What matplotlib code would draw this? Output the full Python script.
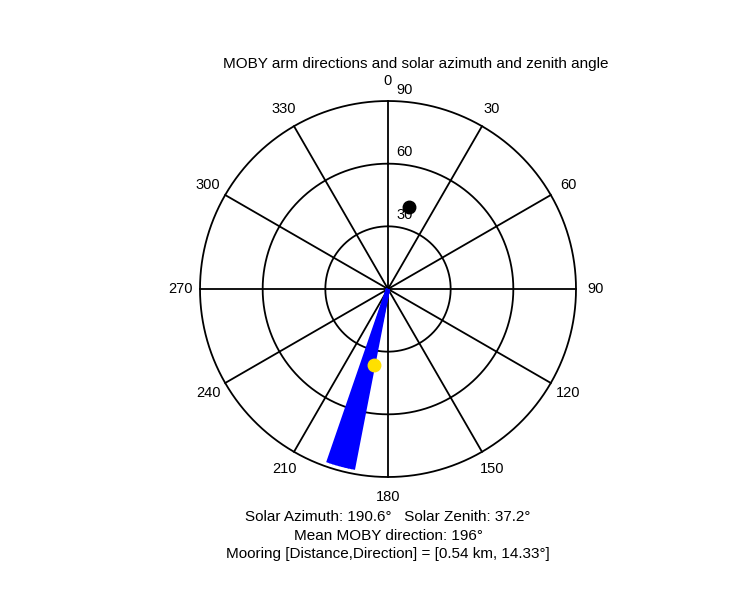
import numpy as np
import matplotlib
matplotlib.use("Agg")
import matplotlib.pyplot as plt

plt.rcParams['font.family'] = ['Liberation Sans', 'DejaVu Sans']

rings = [30, 60, 90]
spoke_angles = [0, 30, 60, 90, 120, 150]
angle_labels = ['0', '30', '60', '90', '120', '150', '180', '210', '240', '270', '300', '330']
arm_dirs = [191, 192, 193, 194, 195, 196, 197, 198, 199]
solar_az, solar_zen = 190.6, 37.2
mooring_dir, mooring_r = 14.33, 40.5

def xy(az, r):
    a = np.deg2rad(az)
    return r * np.sin(a), r * np.cos(a)

fig = plt.figure(figsize=(7.5, 6), dpi=100)
ax = fig.add_axes([0, 0, 1, 1])
R = 188.0
ax.set_xlim(-388 / R * 90, (750 - 388) / R * 90)
ax.set_ylim(-(600 - 289) / R * 90, 289 / R * 90)
ax.axis('off')

t = np.linspace(0, 360, 721)
for r in rings:
    x, y = xy(t, r)
    ax.plot(x, y, color='black', lw=1.3)
for a in spoke_angles:
    x0, y0 = xy(a, 90)
    ax.plot([-x0, x0], [-y0, y0], color='black', lw=1.3)

for i, lab in enumerate(angle_labels):
    x, y = xy(i * 30, 99.5)
    ax.text(x, y, lab, ha='center', va='center', fontsize=10.5)
for r in rings:
    ax.text(8.1, r + 5.5, str(r), ha='center', va='center', fontsize=10.5)

for d in arm_dirs:
    x, y = xy(d, 88)
    ax.plot([0, x], [0, y], color='blue', lw=3, solid_capstyle='butt')

x, y = xy(mooring_dir, mooring_r)
ax.plot(x, y, 'o', color='black', ms=9)
x, y = xy(solar_az, solar_zen)
ax.plot(x, y, 'o', color='#FFE000', ms=9)

fig.text(416 / 750, 1 - 64 / 600, 'MOBY arm directions and solar azimuth and zenith angle',
         ha='center', va='center', fontsize=11)
fig.text(388 / 750, 1 - 517 / 600, 'Solar Azimuth: 190.6°   Solar Zenith: 37.2°', ha='center', va='center', fontsize=11)
fig.text(388 / 750, 1 - 536 / 600, 'Mean MOBY direction: 196°', ha='center', va='center', fontsize=11)
fig.text(388 / 750, 1 - 554 / 600, 'Mooring [Distance,Direction] = [0.54 km, 14.33°]', ha='center', va='center', fontsize=11)

fig.savefig('out.png', dpi=100, facecolor='white')
